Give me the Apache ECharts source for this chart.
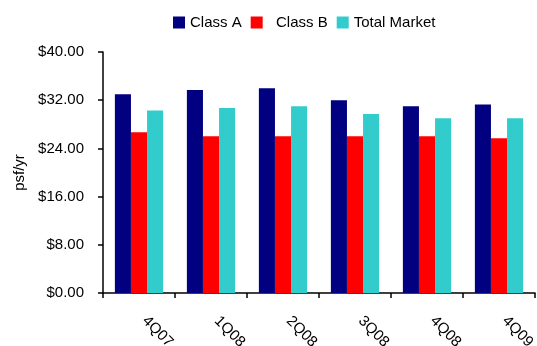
<!DOCTYPE html>
<html>
<head>
<meta charset="utf-8">
<script src="https://cdn.jsdelivr.net/npm/echarts@6/dist/echarts.min.js"></script>
<style>
  html, body { margin: 0; padding: 0; background: #fff; }
  #chart { width: 537px; height: 346px; }
</style>
</head>
<body>
<div id="chart"></div>
<script>
const categories = ["4Q07", "1Q08", "2Q08", "3Q08", "4Q08", "4Q09"];
const classA = [33.0, 33.7, 34.0, 32.0, 31.0, 31.3];
const classB = [26.7, 26.0, 26.0, 26.0, 26.0, 25.7];
const totalMarket = [30.3, 30.7, 31.0, 29.7, 29.0, 29.0];

const chart = echarts.init(document.getElementById("chart"));

const font = "Liberation Sans, Arial, sans-serif";

const option = {
  animation: false,
  textStyle: { fontFamily: font },
  legend: {
    top: 10,
    left: 168,
    itemWidth: 12,
    itemHeight: 12,
    itemGap: 9,
    icon: "rect",
    textStyle: { fontSize: 15, color: "#000", fontFamily: font },
    data: ["Class A", "Class B", "Total Market"],
    formatter: function (name) {
      // the reference has extra space before "Class B"
      return name === "Class B" ? "  " + name : name;
    },
  },
  grid: {
    left: 103,
    right: 2,
    top: 52,
    bottom: 53,
    containLabel: false,
    outerBoundsMode: "none",
  },
  xAxis: {
    type: "category",
    data: categories,
    axisLine: { lineStyle: { color: "#000", width: 1.5 } },
    axisTick: { show: true, length: 5, lineStyle: { color: "#000", width: 1.5 } },
    axisLabel: {
      rotate: -45,
      margin: 20,
      padding: [0, 0, 0, 8],
      fontSize: 15,
      color: "#000",
      fontFamily: font,
    },
  },
  yAxis: {
    type: "value",
    min: 0,
    max: 40,
    interval: 8,
    name: "psf/yr",
    nameLocation: "middle",
    nameGap: 72,
    nameRotate: 90,
    nameTextStyle: { fontSize: 15, color: "#000", fontFamily: font },
    axisLine: { show: true, lineStyle: { color: "#000", width: 1.5 } },
    axisTick: { show: true, length: 5, lineStyle: { color: "#000", width: 1.5 } },
    splitLine: { show: false },
    axisLabel: {
      margin: 19,
      fontSize: 15,
      color: "#000",
      fontFamily: font,
      formatter: function (v) {
        return "$" + v.toFixed(2);
      },
    },
  },
  series: [
    {
      name: "Class A",
      type: "bar",
      data: classA,
      barGap: "0%",
      barCategoryGap: "33%",
      itemStyle: { color: "#000080" },
    },
    {
      name: "Class B",
      type: "bar",
      data: classB,
      itemStyle: { color: "#ff0000" },
    },
    {
      name: "Total Market",
      type: "bar",
      data: totalMarket,
      itemStyle: { color: "#33cccc" },
    },
  ],
};

chart.setOption(option);
</script>
</body>
</html>
